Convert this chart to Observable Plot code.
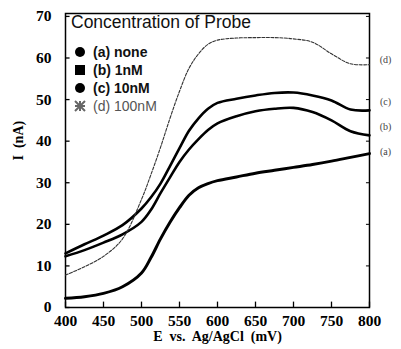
<!DOCTYPE html>
<html><head><meta charset="utf-8">
<script src="https://cdn.jsdelivr.net/npm/d3@7"></script>
<script src="https://cdn.jsdelivr.net/npm/@observablehq/plot@0.6"></script>
<style>
body{margin:0;background:#fff;}
#wrap{position:relative;width:401px;height:349px;}
#legend{position:absolute;left:71px;top:12px;font-family:"Liberation Sans",Arial,sans-serif;color:#111;}
#legend .title{font-size:17.5px;margin-bottom:10px;}
#legend .row{font-size:14px;font-weight:bold;height:18px;display:flex;align-items:center;}
#legend .row svg{margin-left:3px;margin-right:7px;}
</style></head>
<body><div id="wrap"><div id="chart"></div><div id="legend"></div></div>
<script>
const E = [400,425,450,475,500,512.5,525,537.5,550,562.5,575,587.5,600,625,650,675,700,725,750,775,800];
const a = [2.2,2.6,3.4,5.0,8.3,12.0,16.5,20.5,24.0,27.0,28.8,29.8,30.5,31.4,32.3,33.0,33.7,34.4,35.2,36.1,37.0];
const b = [12.3,13.8,15.6,17.6,20.6,23.5,27.5,31.3,35.0,38.0,40.5,42.7,44.3,46.0,47.2,47.8,48.0,47.0,45.0,42.4,41.4];
const c = [13.0,15.2,17.3,19.8,23.8,26.5,29.8,34.0,38.3,42.5,45.5,47.8,49.2,50.2,51.0,51.6,51.7,51.0,49.8,47.6,47.4];
const d = [7.8,9.8,12.3,16.5,26.0,32.0,38.5,45.5,52.0,57.5,61.0,63.3,64.3,64.8,64.9,64.9,64.6,63.8,61.0,58.6,58.4];
const seriesNames = ["(a)","(b)","(c)","(d)"];
const legendLabels = ["(a) none","(b) 1nM","(c) 10nM","(d) 100nM"];
const endLabelY = [37.5, 43.5, 49.5, 59.5];
const yTicks = [0,10,20,30,40,50,60,70];
const xTicks = [400,450,500,550,600,650,700,750,800];

const all = [a,b,c,d];
const rows = [];
all.forEach((s,i)=>E.forEach((e,j)=>rows.push({E:e,I:s[j],s:seriesNames[i]})));
const ends = seriesNames.map((n,i)=>({E:800,I:endLabelY[i],t:n}));

const serif = "'Liberation Serif','Times New Roman',serif";
const chart = Plot.plot({
  width:401, height:349,
  marginLeft:65, marginRight:32, marginTop:13, marginBottom:42,
  style:{fontFamily:serif, background:"#fff"},
  x:{domain:[400,800], label:null},
  y:{domain:[0,70.7], label:null},
  marks:[
    Plot.ruleX(xTicks, {x:d=>d, y1:0, y2:1.3, stroke:"#000", strokeWidth:1.3}),
    Plot.ruleY(yTicks, {y:d=>d, x1:400, x2:406, stroke:"#000", strokeWidth:1.3}),
    Plot.ruleY(yTicks, {y:d=>d, x1:796, x2:800, stroke:"#000", strokeWidth:1}),
    Plot.axisX({ticks:xTicks, tickSize:0, tickPadding:7, fontSize:15.5, fontWeight:"bold", fill:"#000"}),
    Plot.axisY({ticks:yTicks, tickSize:0, tickPadding:14, fontSize:15.5, fontWeight:"bold", fill:"#000"}),
    Plot.frame({stroke:"#000", strokeWidth:1.5}),
    Plot.line(rows.filter(r=>r.s==="(a)"), {x:"E", y:"I", stroke:"#000", strokeWidth:3, curve:"catmull-rom"}),
    Plot.line(rows.filter(r=>r.s==="(b)"), {x:"E", y:"I", stroke:"#000", strokeWidth:2.6, curve:"catmull-rom"}),
    Plot.line(rows.filter(r=>r.s==="(c)"), {x:"E", y:"I", stroke:"#000", strokeWidth:2.6, curve:"catmull-rom"}),
    Plot.line(rows.filter(r=>r.s==="(d)"), {x:"E", y:"I", stroke:"#333", strokeWidth:1.1, strokeDasharray:"3,1.5", curve:"catmull-rom"}),
    Plot.text(ends, {x:"E", y:"I", text:"t", dx:16, fontSize:10, fill:"#444", textAnchor:"middle"}),
    Plot.text(["I  (nA)"], {frameAnchor:"left", dx:-47, rotate:-90, fontSize:14, fontWeight:"bold", fill:"#000"}),
    Plot.text(["E  vs.  Ag/AgCl  (mV)"], {frameAnchor:"bottom", dy:33, fontSize:14, fontWeight:"bold", fill:"#000"})
  ]
});
document.getElementById("chart").appendChild(chart);

const shapes = [
  '<circle cx="6" cy="6" r="5" fill="#000"/>',
  '<rect x="1" y="1" width="10" height="10" fill="#000"/>',
  '<circle cx="6" cy="6" r="5" fill="#000"/>',
  '<path d="M1,1L11,11M11,1L1,11M6,1L6,11M1,6L11,6" stroke="#666" stroke-width="2"/>'
];
const leg = document.getElementById("legend");
leg.innerHTML = '<div class="title">Concentration of Probe</div>' +
  legendLabels.map((l,i)=>'<div class="row"><svg width="12" height="12">'+shapes[i]+'</svg><span style="'+(i===3?'color:#555;font-weight:normal;':'')+'">'+l+'</span></div>').join("");
</script></body></html>
